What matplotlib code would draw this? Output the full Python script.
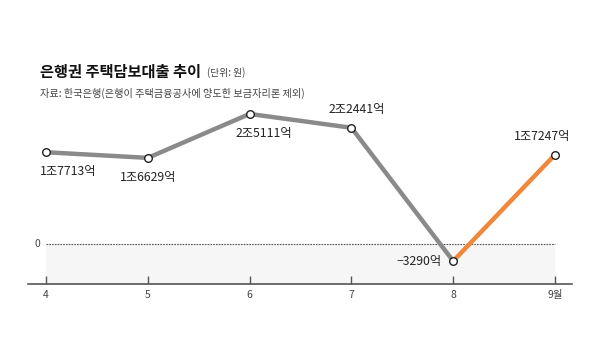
import matplotlib
matplotlib.use("Agg")
import matplotlib.pyplot as plt

plt.rcParams['font.family'] = ['Noto Sans CJK KR', 'DejaVu Sans']

# data (unit: 억원)
months = [4, 5, 6, 7, 8, 9]
values = [17713, 16629, 25111, 22441, -3290, 17247]
labels = ['1조7713억', '1조6629억', '2조5111억', '2조2441억', '\u22123290억', '1조7247억']
tick_labels = ['4', '5', '6', '7', '8', '9월']

W, H = 590, 363
fig = plt.figure(figsize=(W / 100, H / 100), dpi=100)

def px(x, y):
    return x / W, 1 - y / H

ax = fig.add_axes([28 / W, 1 - 284 / H, (572 - 28) / W, (284 - 100) / H])
ax.set_xlim(3.823, 9.167)
ax.set_ylim(-7720, 27800)

# shaded negative zone + zero line
ax.fill_between([4, 9], -7720, 0, color='#f6f6f6', lw=0, zorder=0)
ax.plot([4, 9], [0, 0], color='#555555', lw=0.8, ls=(0, (1.5, 1)), zorder=1)
ax.annotate('0', (4, 0), xytext=(-4, 0), textcoords='offset points',
            ha='right', va='center', fontsize=7.5, color='#444444')

# grey line Apr-Aug, orange Aug-Sep
ax.plot(months[:5], values[:5], color='#8a8a8a', lw=3.2, solid_capstyle='round',
        solid_joinstyle='round', zorder=2)
ax.plot(months[4:], values[4:], color='#f0873a', lw=3.2, solid_capstyle='round', zorder=2)
ax.scatter(months, values, s=30, facecolor='white', edgecolor='#222222', lw=1.0, zorder=3)

# point labels: (dx, dy) offsets in points, alignment
offs = [((16, -14), 'center'), ((0, -14), 'center'), ((10, -14), 'center'),
        ((4, 13), 'center'), ((-8, 0), 'right'), ((-9, 13), 'center')]
for m, v, t, ((dx, dy), ha) in zip(months, values, labels, offs):
    ax.annotate(t, (m, v), xytext=(dx, dy), textcoords='offset points',
                ha=ha, va='center', fontsize=8.8, color='#222222')

for s in ['top', 'right', 'left']:
    ax.spines[s].set_visible(False)
ax.spines['bottom'].set_color('#555555')
ax.spines['bottom'].set_linewidth(1.2)
ax.set_yticks([])
ax.set_xticks(months)
ax.set_xticklabels(tick_labels)
ax.tick_params(axis='x', direction='in', length=6, width=1, color='#555555',
               labelsize=7.5, labelcolor='#444444', pad=4)

# titles
fig.text(*px(40, 72), '은행권 주택담보대출 추이', fontsize=11, fontweight='bold',
         color='#111111', va='center', ha='left')
fig.text(*px(207, 73), '(단위: 원)', fontsize=7, color='#444444', va='center', ha='left')
fig.text(*px(40, 93), '자료: 한국은행(은행이 주택금융공사에 양도한 보금자리론 제외)',
         fontsize=7.3, color='#444444', va='center', ha='left')

fig.savefig('out.png', dpi=100, facecolor='white')
